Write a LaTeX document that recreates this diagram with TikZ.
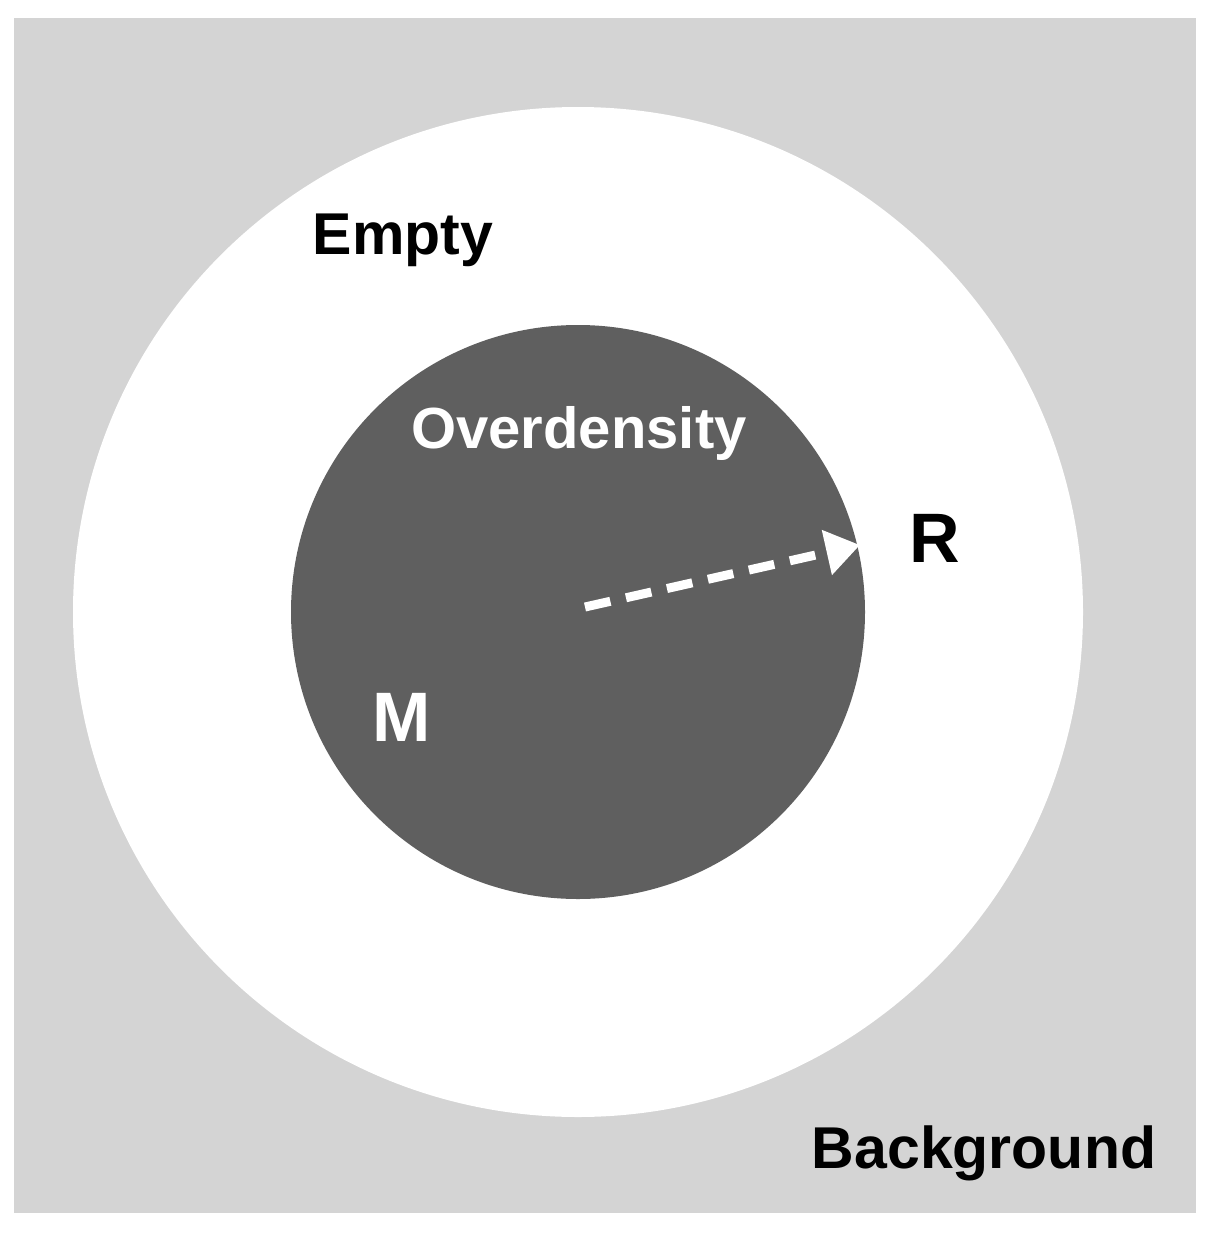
\documentclass[tikz,border=0pt]{standalone}
\usepackage{fontspec}
\setmainfont{Liberation Sans}
\usetikzlibrary{arrows.meta}
\definecolor{bg}{HTML}{D4D4D4}
\definecolor{od}{HTML}{5F5F5F}
\begin{document}
\begin{tikzpicture}[x=1pt,y=-1pt,
  lbl/.style={font=\bfseries\fontsize{#1}{#1}\selectfont, inner sep=0pt}]
\useasboundingbox (0,0) rectangle (1214,1237);
\fill[bg] (14,18) rectangle (1196,1213);
\fill[white] (578,612) circle (505);
\fill[od] (578,612) circle (287);
\coordinate (c) at (585,607);
\coordinate (tip) at (860,545);
\draw[white, line width=9pt, dash pattern=on 26pt off 16pt,
  -{Triangle[length=34pt,width=44pt]}] (c) -- (tip);
\node[lbl=59] (empty) at (403,240) {Empty};
\node[lbl=58, text=white] (over) at (579,433) {Overdensity};
\node[lbl=70] (R) at (935,538) {R};
\node[lbl=70, text=white] (M) at (402,717) {M};
\node[lbl=59] (bgl) at (984,1153) {Background};
\end{tikzpicture}
\end{document}
